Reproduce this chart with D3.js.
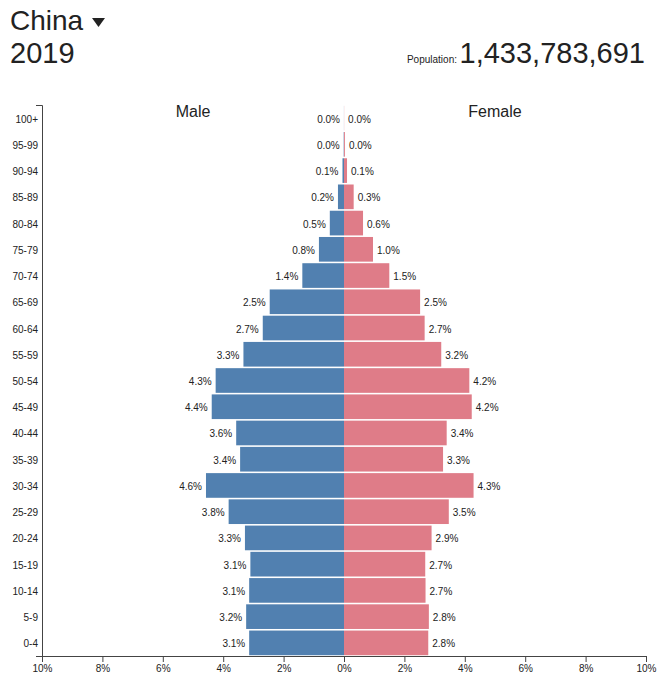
<!DOCTYPE html>
<html>
<head>
<meta charset="utf-8">
<script src="https://cdn.jsdelivr.net/npm/d3@7"></script>
<style>
  html, body { margin: 0; padding: 0; background: #fff; }
  svg { display: block; font-family: "Helvetica Neue", Helvetica, Arial, "Liberation Sans", sans-serif; }
</style>
</head>
<body>
<svg id="chart" width="659" height="680"></svg>
<script>
const country = "China";
const year = "2019";
const population = 1433783691;
const ageGroups = ["100+","95-99","90-94","85-89","80-84","75-79","70-74","65-69","60-64","55-59","50-54","45-49","40-44","35-39","30-34","25-29","20-24","15-19","10-14","5-9","0-4"];
const malePct   = [0.002,0.01,0.05,0.20,0.47,0.83,1.38,2.46,2.69,3.33,4.25,4.38,3.57,3.44,4.57,3.82,3.28,3.10,3.14,3.24,3.14];
const femalePct = [0.004,0.03,0.10,0.32,0.63,0.96,1.50,2.52,2.67,3.22,4.15,4.23,3.40,3.28,4.29,3.47,2.90,2.69,2.70,2.81,2.79];
const xTicks = [-10,-8,-6,-4,-2,0,2,4,6,8,10];

const maleColor = "#5180b0";
const femaleColor = "#df7c88";
const textColor = "#222";

const svg = d3.select("#chart");
const mLeft = 42, mRight = 646, mCenter = 344, mTop = 105, mBottom = 656;

const x = d3.scaleLinear().domain([-10, 10]).range([mLeft, mRight]);
const y = d3.scaleBand().domain(ageGroups).range([mTop, mBottom]).paddingInner(0.06).paddingOuter(0.03);

const data = ageGroups.map((a, i) => ({ age: a, male: malePct[i], female: femalePct[i] }));

// header
svg.append("text").attr("x", 10).attr("y", 30).attr("font-size", 28).attr("fill", textColor).text(country);
svg.append("path").attr("d", "M92,18 L105,18 L98.5,27 Z").attr("fill", textColor);
svg.append("text").attr("x", 10).attr("y", 63).attr("font-size", 29).attr("fill", textColor).text(year);
svg.append("text").attr("x", 645).attr("y", 63).attr("text-anchor", "end").attr("font-size", 29).attr("fill", textColor)
  .text(d3.format(",")(population));
svg.append("text").attr("x", 457).attr("y", 63).attr("text-anchor", "end").attr("font-size", 10).attr("fill", textColor)
  .text("Population:");

// side titles
svg.append("text").attr("x", (mLeft + mCenter) / 2).attr("y", 117).attr("text-anchor", "middle").attr("font-size", 16).attr("fill", textColor).text("Male");
svg.append("text").attr("x", (mCenter + mRight) / 2).attr("y", 117).attr("text-anchor", "middle").attr("font-size", 16).attr("fill", textColor).text("Female");

// bars
svg.append("g").selectAll("rect").data(data).join("rect")
  .attr("x", d => x(-d.male)).attr("y", d => y(d.age))
  .attr("width", d => x(0) - x(-d.male)).attr("height", y.bandwidth())
  .attr("fill", maleColor);
svg.append("g").selectAll("rect").data(data).join("rect")
  .attr("x", x(0)).attr("y", d => y(d.age))
  .attr("width", d => x(d.female) - x(0)).attr("height", y.bandwidth())
  .attr("fill", femaleColor);

// value labels
const fmt = v => v.toFixed(1) + "%";
svg.append("g").selectAll("text").data(data).join("text")
  .attr("x", d => x(-d.male) - 4).attr("y", d => y(d.age) + y.bandwidth() / 2)
  .attr("dy", "0.45em").attr("text-anchor", "end").attr("font-size", 10).attr("fill", textColor)
  .text(d => fmt(d.male));
svg.append("g").selectAll("text").data(data).join("text")
  .attr("x", d => x(d.female) + 4).attr("y", d => y(d.age) + y.bandwidth() / 2)
  .attr("dy", "0.45em").attr("text-anchor", "start").attr("font-size", 10).attr("fill", textColor)
  .text(d => fmt(d.female));

// axes
const yAxis = svg.append("g").attr("transform", `translate(${mLeft},0)`)
  .call(d3.axisLeft(y).tickSize(0).tickSizeOuter(6).tickPadding(4));
yAxis.selectAll("text").attr("font-size", 10).attr("fill", textColor).attr("dy", "0.45em").style("font-family", "inherit");
yAxis.select(".domain").attr("stroke", "#444");

const xAxis = svg.append("g").attr("transform", `translate(0,${mBottom})`)
  .call(d3.axisBottom(x).tickValues(xTicks).tickFormat(d => Math.abs(d) + "%").tickSize(6));
xAxis.selectAll("text").attr("font-size", 10).attr("fill", textColor).style("font-family", "inherit");
xAxis.selectAll("line").attr("stroke", "#444");
xAxis.select(".domain").attr("stroke", "#444");
</script>
</body>
</html>
